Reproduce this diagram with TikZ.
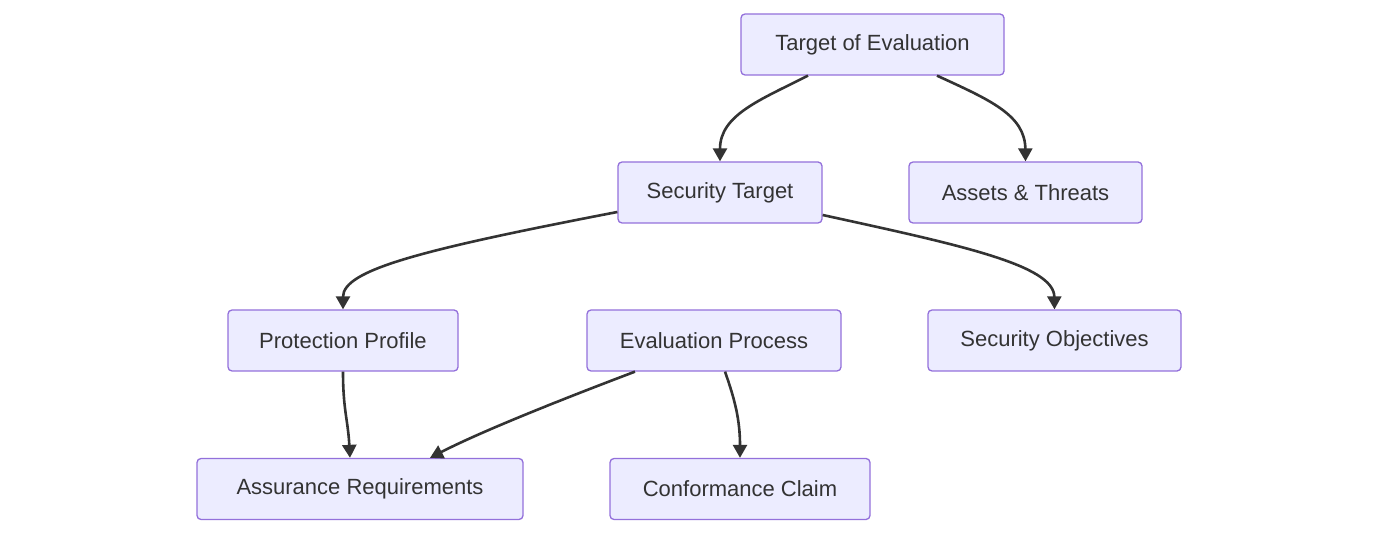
\documentclass[tikz,border=0pt]{standalone}
\usepackage{fontspec}
\setmainfont{Liberation Sans}
\usetikzlibrary{arrows.meta}
\definecolor{nfill}{HTML}{ECECFF}
\definecolor{nline}{HTML}{9370DB}
\definecolor{ink}{HTML}{333333}
\begin{document}
\begin{tikzpicture}[x=1pt,y=-1pt,
  box/.style={draw=nline,fill=nfill,line width=1.3pt,rounded corners=4pt,text=ink,font=\fontsize{22}{26}\selectfont,minimum height=61pt,inner sep=0pt},
  arr/.style={draw=ink,line width=2.6pt,-{Triangle[length=13pt,width=14pt]}}]
\useasboundingbox (0,0) rectangle (1379,534);
\node[box,minimum width=263pt] (toe) at (872.5,44.5) {Target of Evaluation};
\node[box,minimum width=204pt] (st) at (720,192.5) {Security Target};
\node[box,minimum width=233pt] (at) at (1025.5,192.5) {Assets \& Threats};
\node[box,minimum width=230pt] (pp) at (343,340.5) {Protection Profile};
\node[box,minimum width=254pt] (ep) at (714,340.5) {Evaluation Process};
\node[box,minimum width=253pt] (so) at (1054.5,340.5) {Security Objectives};
\node[box,minimum width=326pt] (ar) at (360,489) {Assurance Requirements};
\node[box,minimum width=260pt] (cc) at (740,489) {Conformance Claim};
\draw[arr] (toe.south -| 808,0) .. controls (760,100) and (720,115) .. (st.north);
\draw[arr] (toe.south -| 937,0) .. controls (990,100) and (1025,115) .. (at.north);
\draw[arr] (st.west |- 0,212) .. controls (420,250) and (343,270) .. (pp.north);
\draw[arr] (st.east |- 0,215) .. controls (960,245) and (1054,265) .. (so.north);
\draw[arr] (pp.south) .. controls (343,410) and (348,420) .. (ar.north -| 350,0);
\draw[arr] (ep.south -| 635,0) .. controls (560,400) and (480,432) .. (ar.north -| 430,0);
\draw[arr] (ep.south -| 725,0) .. controls (735,400) and (740,420) .. (cc.north);
\end{tikzpicture}
\end{document}
